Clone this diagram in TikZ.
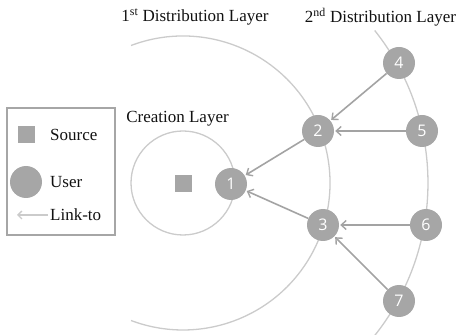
\documentclass[tikz,border=0pt]{standalone}
\usepackage{fontspec}
\setmainfont{Liberation Serif}
\newfontfamily\numfont{Open Sans}
\usetikzlibrary{arrows.meta}
\definecolor{nodegray}{HTML}{A6A6A6}
\definecolor{arrowgray}{HTML}{A3A3A3}
\definecolor{ringgray}{HTML}{CBCBCB}
\definecolor{txt}{HTML}{111111}
\tikzset{
  user/.style={circle, fill=nodegray, minimum size=32pt, inner sep=0pt, text=white, font=\numfont\fontsize{16}{16}\selectfont},
  ring/.style={draw=ringgray, line width=1.3pt},
  link/.style={draw=arrowgray, line width=1.6pt, -{Straight Barb[length=5pt,width=9pt,line width=1.4pt]}, shorten >=1pt},
  lbl/.style={text=txt, font=\fontsize{17}{19}\selectfont, inner sep=0pt},
  srcbox/.style={fill=nodegray, minimum size=17pt, inner sep=0pt}
}
\begin{document}
\begin{tikzpicture}[x=1pt,y=1pt]
\useasboundingbox (0,0) rectangle (456,335);
% rings
\draw[ring] (183,152) circle[radius=52pt];
\draw[ring] (183,152) ++(110.7:147pt) arc[start angle=110.7, end angle=-110.7, radius=147pt];
\draw[ring] (183,152) ++(38.5:245pt) arc[start angle=38.5, end angle=-38.5, radius=245pt];
% source
\node[srcbox] (src) at (183,151) {};
% users
\node[user] (n1) at (231,151) {1};
\node[user] (n2) at (318,204) {2};
\node[user] (n3) at (323,110) {3};
\node[user] (n4) at (399,272) {4};
\node[user] (n5) at (422,204) {5};
\node[user] (n6) at (426,110) {6};
\node[user] (n7) at (399,34) {7};
% links
\draw[link] (n4) -- (n2);
\draw[link] (n5) -- (n2);
\draw[link] (n2) -- (n1);
\draw[link] (n3) -- (n1);
\draw[link] (n6) -- (n3);
\draw[link] (n7) -- (n3);
% labels
\node[lbl] (lc) at (177.5,216) {Creation Layer};
\node[lbl] (l1) at (195,318) {1\textsuperscript{st} Distribution Layer};
\node[lbl] (l2) at (380.5,318) {2\textsuperscript{nd} Distribution Layer};
% legend
\node[draw=nodegray, line width=2pt, minimum width=108pt, minimum height=127pt, inner sep=0pt] (leg) at (61,163.5) {};
\node[srcbox] (lsq) at (26.5,200) {};
\node[lbl, anchor=west] (ls) at (50,200) {Source};
\node[circle, fill=nodegray, minimum size=32pt, inner sep=0pt] (lci) at (26,153) {};
\node[lbl, anchor=west] (lu) at (50,153) {User};
\coordinate (la1) at (48,120);
\coordinate (la2) at (17,120);
\draw[draw=ringgray, line width=1.6pt, -{Straight Barb[length=4pt,width=8pt,line width=1.4pt]}] (la1) -- (la2);
\node[lbl, anchor=west] (ll) at (50,120) {Link-to};
\end{tikzpicture}
\end{document}
